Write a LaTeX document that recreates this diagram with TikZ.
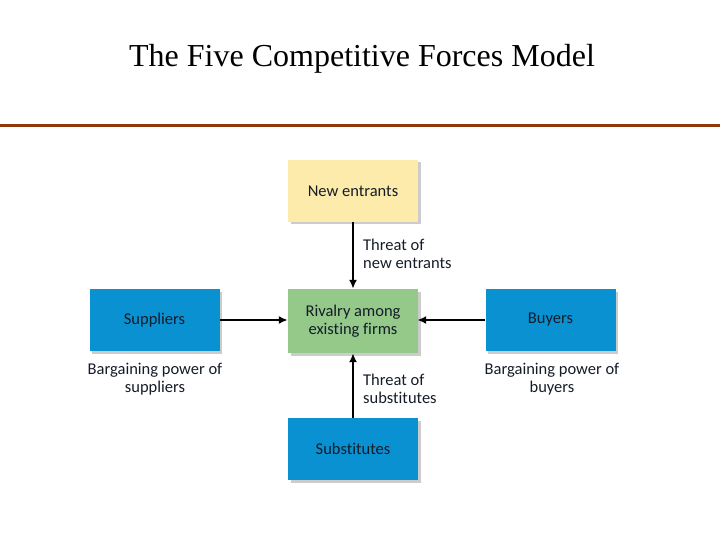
\documentclass[tikz,border=0pt]{standalone}
\usepackage{fontspec}
\setmainfont{Liberation Serif}
\newfontfamily\boxfont[Ligatures={NoCommon}]{Carlito}
\usetikzlibrary{shadows,arrows.meta}
\definecolor{cline}{RGB}{142,56,14}
\definecolor{cyellow}{RGB}{252,235,170}
\definecolor{cblue}{RGB}{10,145,210}
\definecolor{cgreen}{RGB}{148,201,138}
\definecolor{ctext}{RGB}{20,28,40}
\tikzset{
  forcebox/.style={minimum width=130pt, minimum height=62pt, inner sep=0pt,
    align=center, font=\boxfont\fontsize{16.5}{18}\selectfont, text=ctext,
    drop shadow={shadow xshift=2.5pt, shadow yshift=-2.5pt, fill=gray!50, opacity=0.8}},
  lbl/.style={font=\boxfont\fontsize{16.5}{18}\selectfont, text=ctext, inner sep=0pt},
  force/.style={-{Latex[length=9pt,width=8pt]}, line width=2.4pt, black}
}
\begin{document}
\begin{tikzpicture}[x=1pt,y=-1pt]
\useasboundingbox (0,0) rectangle (720,540);
\node (title) at (362,59) {\fontsize{32}{34}\selectfont The Five Competitive Forces Model};
\coordinate (l1) at (0,126);
\coordinate (l2) at (720,126);
\draw[cline, line width=3pt] (l1) -- (l2);
\node[forcebox, fill=cyellow] (ne) at (353,191) {New entrants};
\node[forcebox, fill=cgreen, minimum height=64pt] (riv) at (353,321) {Rivalry among\\existing firms};
\node[forcebox, fill=cblue] (sup) at (154.5,320) {Suppliers};
\node[forcebox, fill=cblue] (buy) at (550.5,320) {Buyers};
\node[forcebox, fill=cblue] (subs) at (353,449) {Substitutes};
\draw[force] (ne) -- (riv);
\draw[force] (subs) -- (riv);
\draw[force] (sup.east) -- (sup.east -| riv.west);
\draw[force] (buy.west) -- ([xshift=-1pt]buy.west -| riv.east);
\node[lbl, anchor=west, align=left] (tne) at (363,254) {Threat of\\new entrants};
\node[lbl, anchor=west, align=left] (tsu) at (363,389) {Threat of\\substitutes};
\node[lbl, align=center] (bs) at (155,379) {Bargaining power of\\suppliers};
\node[lbl, align=center] (bb) at (552,379) {Bargaining power of\\buyers};
\end{tikzpicture}
\end{document}
